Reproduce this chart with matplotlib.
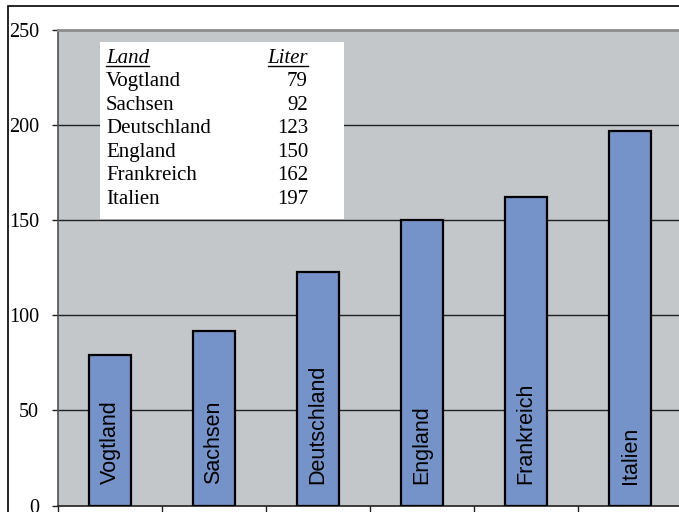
import matplotlib
matplotlib.use("Agg")
import matplotlib.pyplot as plt
from matplotlib.patches import Rectangle
from matplotlib.lines import Line2D

categories = ["Vogtland", "Sachsen", "Deutschland", "England", "Frankreich", "Italien"]
values = [79, 92, 123, 150, 162, 197]
yticks = [0, 50, 100, 150, 200, 250]
table_header = ["Land", "Liter"]

W, H = 679, 512
fig = plt.figure(figsize=(W / 100, H / 100), dpi=100)
fig.patch.set_facecolor("white")

def fx(px):
    return px / W

def fy(py):
    return 1 - py / H

# outer chart frame
fig.add_artist(Rectangle((fx(8), fy(700)), 2, fy(6) - fy(700), transform=fig.transFigure,
                         facecolor="none", edgecolor="black", lw=1.2))

left, right, top, bottom = 58, 682, 30, 505.6
ax = fig.add_axes([fx(left), fy(bottom), (right - left) / W, (bottom - top) / H])
ax.set_facecolor("#c4c7ca")

x = list(range(len(categories)))
ax.bar(x, values, width=0.4, color="#7593c9", edgecolor="black", linewidth=1.6, zorder=3)
ax.set_xlim(-0.5, len(categories) - 0.5)
ax.set_ylim(0, 250)

for yv in yticks[1:-1]:
    ax.axhline(yv, color="#202020", lw=1.0, zorder=1)

ax.set_yticks(yticks)
ax.set_yticklabels([str(v) for v in yticks], fontfamily="Liberation Serif", fontsize=14.5)
ax.tick_params(axis="y", direction="out", length=4.5, width=1, color="#202020", pad=9)
ax.set_xticks([i - 0.5 for i in range(len(categories) + 1)])
ax.set_xticklabels([])
ax.tick_params(axis="x", direction="out", length=8, width=1, color="#202020")

ax.spines["left"].set_color("#505050")
ax.spines["left"].set_linewidth(1.2)
ax.spines["bottom"].set_color("#202020")
ax.spines["bottom"].set_linewidth(1.2)
ax.spines["top"].set_color("#8c8c8c")
ax.spines["top"].set_linewidth(2)
ax.spines["right"].set_color("#8c8c8c")
ax.spines["right"].set_linewidth(2)

for xi, name in zip(x, categories):
    ax.text(xi, 11.5, name, rotation=90, ha="center", va="bottom",
            fontfamily="Liberation Sans", fontsize=15.5, color="black", zorder=4)

# table box
fig.add_artist(Rectangle((fx(100), fy(219)), fx(344) - fx(100), fy(42) - fy(219),
                         transform=fig.transFigure, facecolor="white", edgecolor="none", zorder=5))
tf = dict(fontfamily="Liberation Serif", fontsize=15, zorder=6, transform=fig.transFigure)
h1 = fig.text(fx(106), fy(62.7), table_header[0], ha="left", va="baseline", style="italic", **tf)
h2 = fig.text(fx(308), fy(62.7), table_header[1], ha="right", va="baseline", style="italic", **tf)
for i, (name, v) in enumerate(zip(categories, values)):
    by = 62.7 + 23.55 * (i + 1)
    fig.text(fx(106), fy(by), name, ha="left", va="baseline", **tf)
    fig.text(fx(308), fy(by), str(v), ha="right", va="baseline", **tf)

fig.canvas.draw()
r = fig.canvas.get_renderer()
for t in (h1, h2):
    bb = t.get_window_extent(r)
    uy = fy(65.5)
    fig.add_artist(Line2D([bb.x0 / W, bb.x1 / W], [uy, uy], transform=fig.transFigure,
                          color="black", lw=1, zorder=7))

fig.savefig("out.png", dpi=100)
